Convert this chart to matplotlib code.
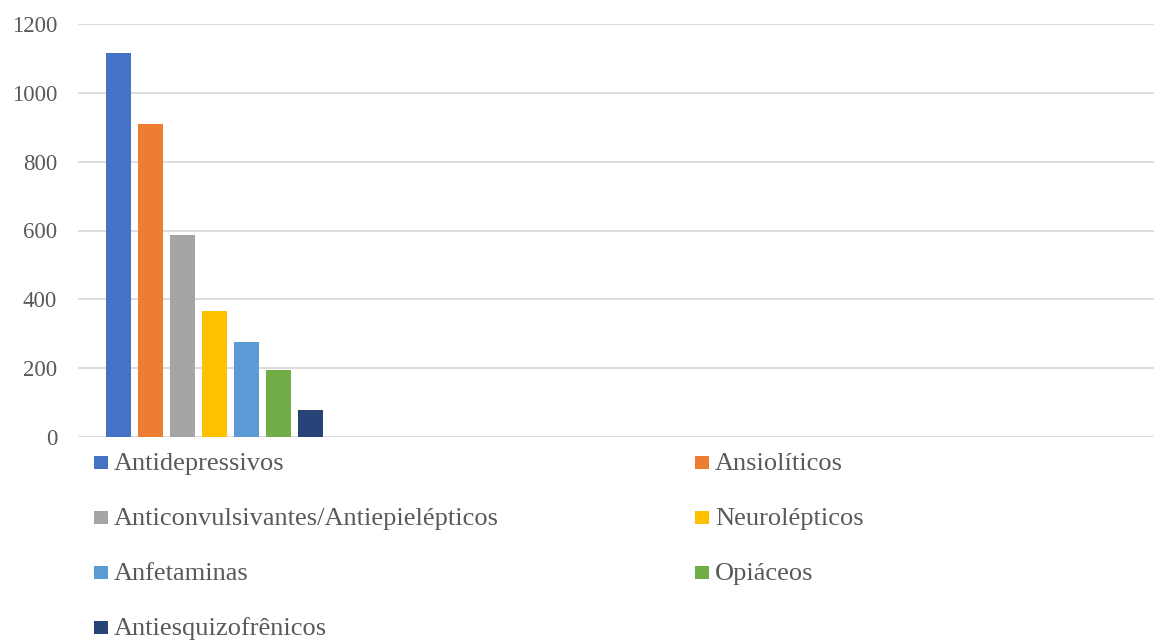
import matplotlib
matplotlib.use("Agg")
import matplotlib.pyplot as plt
from matplotlib.patches import Rectangle

# dados do gráfico
categorias = ['Antidepressivos', 'Ansiolíticos', 'Anticonvulsivantes/Antiepielépticos',
              'Neurolépticos', 'Anfetaminas', 'Opiáceos', 'Antiesquizofrênicos']
valores = [1117, 908, 588, 366, 276, 194, 78]
cores = ['#4472C4', '#ED7D31', '#A5A5A5', '#FFC000', '#5B9BD5', '#70AD47', '#264478']
ticks_y = [0, 200, 400, 600, 800, 1000, 1200]

plt.rcParams['font.family'] = ['Liberation Serif', 'DejaVu Serif']

W, H = 1154, 642
fig = plt.figure(figsize=(W / 100, H / 100), dpi=100)
ax = fig.add_axes([78 / W, 1 - 437 / H, 1 - 78 / W, (437 - 24) / H])

ax.bar(range(len(valores)), valores, width=0.8, color=cores, zorder=3)
ax.set_xlim(-1.27, 32.36)
ax.set_ylim(0, 1200)
ax.set_yticks(ticks_y)
ax.set_xticks([])
ax.tick_params(axis='y', length=0, pad=15, labelsize=16.5, labelcolor='#595959')
ax.grid(axis='y', color='#D9D9D9', linewidth=1.3, zorder=0)
for lado in ax.spines.values():
    lado.set_visible(False)

# legenda manual em duas colunas (ordem por linhas)
x_col = [94, 695]
y_lin0, passo = 462, 55
for i, (nome, cor) in enumerate(zip(categorias, cores)):
    c, l = i % 2, i // 2
    xc = x_col[c]
    yc = y_lin0 + l * passo
    fig.patches.append(Rectangle((xc / W, 1 - (yc + 6.5) / H), 14 / W, 13 / H,
                                 transform=fig.transFigure, facecolor=cor,
                                 edgecolor='none'))
    fig.text((xc + 20) / W, 1 - (yc + 8) / H, nome, fontsize=19,
             color='#595959', va='baseline', ha='left')

fig.savefig('out.png', dpi=100)
